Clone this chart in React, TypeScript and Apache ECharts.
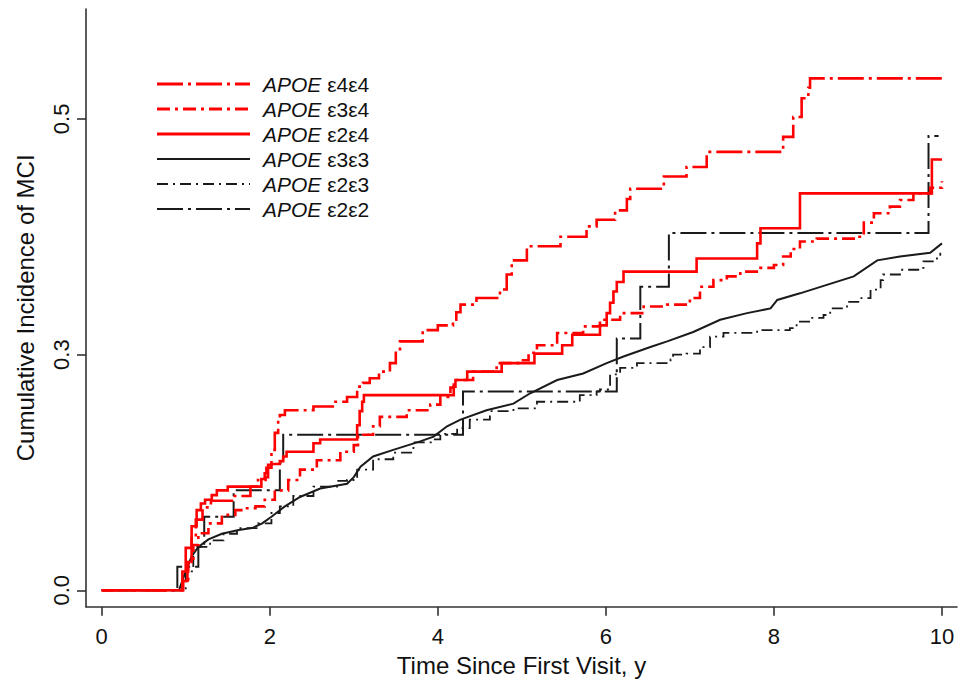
import React, { useEffect, useRef } from 'react';
import * as echarts from 'echarts';

// ---------- data ----------
const seriesNames = ['APOE ε4ε4', 'APOE ε3ε4', 'APOE ε2ε4', 'APOE ε3ε3', 'APOE ε2ε3', 'APOE ε2ε2'];

const apoe44: number[][] = [
  [0, 0], [0.9, 0], [0.96, 0.01], [1.02, 0.03], [1.07, 0.055], [1.12, 0.075], [1.2, 0.088], [1.3, 0.095],
  [1.55, 0.1], [1.77, 0.11], [1.86, 0.117], [1.95, 0.12], [1.98, 0.133], [2.02, 0.149], [2.06, 0.167],
  [2.1, 0.18], [2.12, 0.186], [2.18, 0.191], [2.52, 0.195], [2.75, 0.2], [2.92, 0.205], [3.04, 0.216],
  [3.11, 0.22], [3.19, 0.225], [3.3, 0.232], [3.43, 0.241], [3.5, 0.252], [3.55, 0.264], [3.82, 0.276],
  [4.0, 0.281], [4.18, 0.287], [4.22, 0.295], [4.27, 0.303], [4.46, 0.31], [4.74, 0.319], [4.82, 0.335],
  [4.88, 0.35], [5.06, 0.365], [5.46, 0.375], [5.77, 0.386], [5.89, 0.393], [6.11, 0.403], [6.25, 0.415],
  [6.29, 0.426], [6.69, 0.439], [6.96, 0.449], [7.2, 0.465], [8.11, 0.481], [8.23, 0.502], [8.33, 0.522],
  [8.41, 0.533], [8.43, 0.543], [10, 0.543],
];

const apoe34: number[][] = [
  [0, 0], [0.9, 0], [0.97, 0.01], [1.03, 0.03], [1.09, 0.048], [1.15, 0.0605], [1.27, 0.071], [1.43, 0.08],
  [1.59, 0.085], [1.71, 0.087], [1.83, 0.089], [1.94, 0.096], [2.06, 0.106], [2.22, 0.117], [2.36, 0.128],
  [2.56, 0.138], [2.84, 0.147], [3.0, 0.154], [3.05, 0.165], [3.23, 0.174], [3.31, 0.184], [3.63, 0.191],
  [3.91, 0.197], [4.03, 0.205], [4.15, 0.215], [4.19, 0.223], [4.42, 0.232], [4.7, 0.241], [4.98, 0.244],
  [5.08, 0.252], [5.18, 0.26], [5.42, 0.273], [5.73, 0.28], [5.93, 0.287], [6.17, 0.294], [6.45, 0.301],
  [6.73, 0.303], [7.0, 0.31], [7.12, 0.322], [7.28, 0.329], [7.44, 0.333], [7.6, 0.338], [7.84, 0.342],
  [8.0, 0.345], [8.11, 0.354], [8.2, 0.362], [8.31, 0.37], [8.51, 0.373], [8.95, 0.375], [9.07, 0.39],
  [9.19, 0.4], [9.38, 0.407], [9.5, 0.414], [9.66, 0.421], [9.86, 0.427], [10, 0.434],
];

const apoe24: number[][] = [
  [0, 0], [0.92, 0], [0.96, 0.02], [1.0, 0.045], [1.07, 0.068], [1.13, 0.085], [1.18, 0.092], [1.23, 0.096],
  [1.31, 0.101], [1.37, 0.106], [1.5, 0.11], [1.9, 0.118], [1.94, 0.124], [1.96, 0.13], [2.02, 0.134],
  [2.12, 0.137], [2.16, 0.142], [2.2, 0.147], [2.52, 0.156], [2.6, 0.16], [3.04, 0.175], [3.07, 0.19],
  [3.1, 0.2], [3.12, 0.207], [4.19, 0.216], [4.21, 0.223], [4.35, 0.232], [4.76, 0.241], [5.15, 0.251],
  [5.48, 0.26], [5.6, 0.271], [5.93, 0.281], [6.01, 0.294], [6.05, 0.305], [6.09, 0.317], [6.13, 0.327],
  [6.21, 0.338], [7.08, 0.352], [7.8, 0.368], [7.84, 0.384], [8.31, 0.421], [9.88, 0.457], [10, 0.457],
];

const apoe33: number[][] = [
  [0, 0], [0.92, 0], [0.99, 0.018], [1.07, 0.036], [1.15, 0.046], [1.27, 0.054], [1.43, 0.06], [1.63, 0.064],
  [1.79, 0.066], [1.91, 0.071], [2.02, 0.078], [2.18, 0.089], [2.36, 0.099], [2.6, 0.108], [2.92, 0.113],
  [3.0, 0.12], [3.08, 0.131], [3.23, 0.142], [3.47, 0.149], [3.79, 0.158], [3.95, 0.163], [4.11, 0.174],
  [4.27, 0.181], [4.58, 0.191], [4.9, 0.198], [5.1, 0.209], [5.42, 0.223], [5.73, 0.23], [6.01, 0.241],
  [6.21, 0.248], [6.53, 0.258], [6.73, 0.264], [7.04, 0.274], [7.36, 0.287], [7.68, 0.294], [7.96, 0.299],
  [8.04, 0.308], [8.31, 0.315], [8.63, 0.324], [8.95, 0.333], [9.23, 0.35], [9.5, 0.354], [9.86, 0.358],
  [10, 0.368],
];

const apoe23: number[][] = [
  [0, 0], [0.92, 0], [1.0, 0.02], [1.09, 0.046], [1.29, 0.053], [1.45, 0.06], [1.61, 0.066], [1.86, 0.071],
  [2.02, 0.082], [2.12, 0.089], [2.28, 0.1], [2.52, 0.11], [2.8, 0.116], [2.92, 0.117], [3.04, 0.128],
  [3.23, 0.139], [3.47, 0.146], [3.71, 0.157], [3.95, 0.16], [4.03, 0.166], [4.23, 0.172], [4.38, 0.181],
  [4.62, 0.19], [4.9, 0.193], [5.18, 0.2], [5.69, 0.207], [5.89, 0.211], [5.93, 0.213], [6.05, 0.229],
  [6.17, 0.236], [6.37, 0.241], [6.77, 0.245], [6.8, 0.25], [6.96, 0.251], [7.12, 0.258], [7.24, 0.269],
  [7.4, 0.273], [7.8, 0.276], [8.19, 0.278], [8.27, 0.285], [8.43, 0.289], [8.59, 0.292], [8.67, 0.299],
  [8.87, 0.306], [9.03, 0.31], [9.15, 0.319], [9.27, 0.329], [9.3, 0.335], [9.5, 0.34], [9.74, 0.342],
  [9.78, 0.349], [9.94, 0.352], [9.98, 0.358],
];

const apoe22: number[][] = [
  [0, 0], [0.89, 0], [0.9, 0.025], [1.15, 0.046], [1.22, 0.078], [1.57, 0.106], [2.12, 0.135],
  [2.16, 0.165], [4.3, 0.211], [6.13, 0.267], [6.41, 0.322], [6.75, 0.379], [9.84, 0.482], [9.96, 0.482],
];

const seriesData = [apoe44, apoe34, apoe24, apoe33, apoe23, apoe22];

const xTickValues = [0, 2, 4, 6, 8, 10];
const xTickLabels = ['0', '2', '4', '6', '8', '10'];
const yTickValues = [0, 0.25, 0.5];
const yTickLabels = ['0.0', '0.3', '0.5'];
const xAxisTitle = 'Time Since First Visit, y';
const yAxisTitle = 'Cumulative Incidence of MCI';

// ---------- styles ----------
const FONT = '"Liberation Sans", Arial, Helvetica, sans-serif';
const RED = '#ff0000';
const BLACK = '#1a1a1a';
const AXIS = '#333333';
const TEXT = '#111111';

const seriesStyles: { color: string; width: number; dash: number[] | null; step: false | 'end' }[] = [
  { color: RED, width: 2.6, dash: [26, 5, 3, 5], step: 'end' },
  { color: RED, width: 2.6, dash: [13, 5, 3, 5], step: 'end' },
  { color: RED, width: 2.6, dash: null, step: 'end' },
  { color: BLACK, width: 2, dash: null, step: false },
  { color: BLACK, width: 1.8, dash: [11, 5, 2, 5], step: 'end' },
  { color: BLACK, width: 2, dash: [26, 5, 3, 5], step: 'end' },
];

const legendLeft = 157;
const legendLineWidth = 93;
const legendTextX = 263;
const legendTop = 84;
const legendRowGap = 25;

function labelFor(values: number[], labels: string[]) {
  return (v: number) => {
    const i = values.findIndex((t) => Math.abs(t - v) < 1e-9);
    return i >= 0 ? labels[i] : '';
  };
}

export default function App() {
  const ref = useRef<HTMLDivElement>(null);

  useEffect(() => {
    if (!ref.current) return;
    const chart = echarts.init(ref.current, null, { renderer: 'svg' });

    const series = seriesNames.map((name, i) => {
      const s = seriesStyles[i];
      return {
        name,
        type: 'line',
        data: seriesData[i],
        step: s.step,
        symbol: 'none',
        showSymbol: false,
        z: s.color === RED ? 3 : 2,
        lineStyle: {
          color: s.color,
          width: s.width,
          type: s.dash ? s.dash : 'solid',
          cap: 'butt',
          join: 'miter',
        },
      };
    });

    const legendGraphics: any[] = [];
    seriesNames.forEach((name, i) => {
      const s = seriesStyles[i];
      const y = legendTop + i * legendRowGap;
      legendGraphics.push({
        type: 'line',
        shape: { x1: legendLeft, y1: y, x2: legendLeft + legendLineWidth, y2: y },
        style: {
          stroke: s.color,
          lineWidth: s.color === RED ? 3 : 2,
          lineDash: s.dash ? s.dash : null,
          lineCap: 'butt',
        },
        silent: true,
      });
      const sp = name.indexOf(' ');
      legendGraphics.push({
        type: 'text',
        x: legendTextX,
        y,
        style: {
          text: `{i|${name.slice(0, sp)}}${name.slice(sp)}`,
          fontSize: 21,
          fontFamily: FONT,
          fill: TEXT,
          verticalAlign: 'middle',
          align: 'left',
          rich: {
            i: { fontStyle: 'italic', fontSize: 21, fontFamily: FONT, fill: TEXT },
          },
        },
        silent: true,
      });
    });

    chart.setOption({
      animation: false,
      backgroundColor: '#ffffff',
      grid: {
        left: 86,
        right: 6,
        top: 9,
        bottom: 77.3,
        containLabel: false,
        outerBoundsMode: 'none',
      },
      xAxis: {
        type: 'value',
        min: -0.187,
        max: 10.179,
        name: xAxisTitle,
        nameLocation: 'middle',
        nameGap: 47,
        nameMoveOverlap: false,
        nameTextStyle: { fontSize: 24, color: TEXT, fontFamily: FONT },
        axisLine: { show: true, onZero: false, lineStyle: { color: AXIS, width: 1.6 } },
        axisTick: { show: true, length: 9, customValues: xTickValues, lineStyle: { color: AXIS, width: 1.6 } },
        axisLabel: {
          customValues: xTickValues,
          formatter: labelFor(xTickValues, xTickLabels),
          fontSize: 22,
          color: TEXT,
          fontFamily: FONT,
          margin: 19,
        },
        splitLine: { show: false },
      },
      yAxis: {
        type: 'value',
        min: -0.0174,
        max: 0.6166,
        name: yAxisTitle,
        nameLocation: 'middle',
        nameGap: 49,
        nameMoveOverlap: false,
        nameTextStyle: { fontSize: 24, color: TEXT, fontFamily: FONT },
        axisLine: { show: true, onZero: false, lineStyle: { color: AXIS, width: 1.6 } },
        axisTick: { show: true, length: 9, customValues: yTickValues, lineStyle: { color: AXIS, width: 1.6 } },
        axisLabel: {
          customValues: yTickValues,
          formatter: labelFor(yTickValues, yTickLabels),
          fontSize: 22,
          color: TEXT,
          fontFamily: FONT,
          rotate: 90,
          margin: 14,
        },
        splitLine: { show: false },
      },
      graphic: legendGraphics,
      series,
    });

    return () => chart.dispose();
  }, []);

  return (
    <div
      ref={ref}
      style={{ position: 'fixed', left: 0, top: 0, width: 963, height: 684, background: '#fff' }}
    />
  );
}
